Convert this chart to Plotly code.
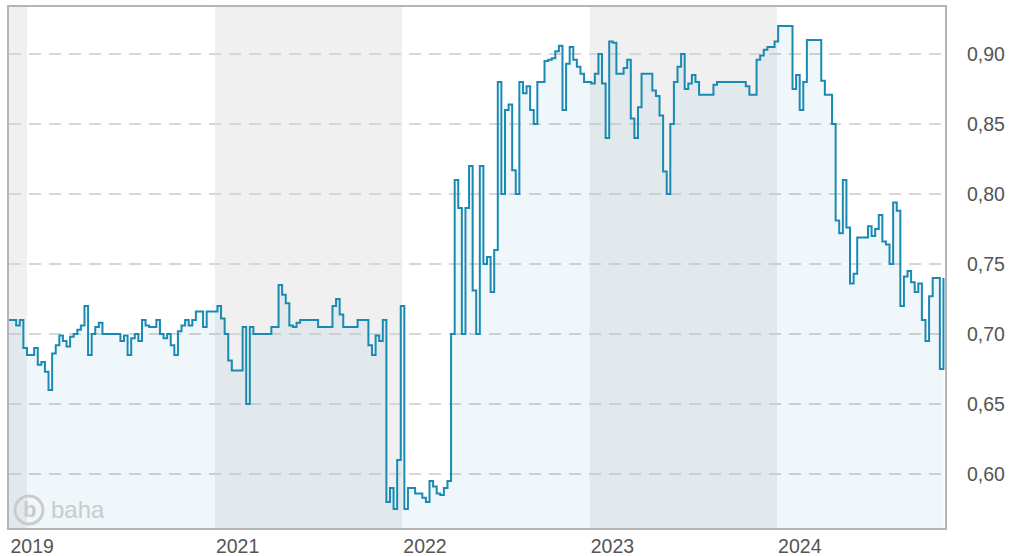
import pandas as pd
import plotly.graph_objects as go

# Weekly closing prices (EUR), first week ending late November 2019
start_date = "2019-11-27"
prices = [
    0.71, 0.71, 0.706, 0.71, 0.69, 0.685, 0.685, 0.69, 0.678, 0.68,
    0.673, 0.66, 0.686, 0.692, 0.699, 0.695, 0.691, 0.698, 0.70, 0.703,
    0.706, 0.72, 0.685, 0.70, 0.705, 0.708, 0.70, 0.70, 0.70, 0.70,
    0.70, 0.695, 0.699, 0.685, 0.697, 0.70, 0.695, 0.71, 0.706, 0.705,
    0.705, 0.71, 0.70, 0.697, 0.70, 0.692, 0.685, 0.702, 0.706, 0.71,
    0.706, 0.71, 0.716, 0.716, 0.705, 0.716, 0.716, 0.716, 0.72, 0.711,
    0.70, 0.681, 0.674, 0.674, 0.674, 0.705, 0.65, 0.705, 0.70, 0.70,
    0.70, 0.70, 0.70, 0.705, 0.705, 0.735, 0.728, 0.722, 0.706, 0.705,
    0.708, 0.71, 0.71, 0.71, 0.71, 0.71, 0.705, 0.705, 0.705, 0.705,
    0.72, 0.725, 0.714, 0.705, 0.705, 0.705, 0.705, 0.71, 0.71, 0.71,
    0.692, 0.685, 0.699, 0.695, 0.71, 0.58, 0.59, 0.575, 0.61, 0.72,
    0.575, 0.59, 0.59, 0.586, 0.586, 0.583, 0.58, 0.595, 0.591, 0.586,
    0.585, 0.59, 0.595, 0.70, 0.81, 0.79, 0.70, 0.79, 0.82, 0.731,
    0.70, 0.82, 0.75, 0.755, 0.73, 0.76, 0.88, 0.80, 0.86, 0.864,
    0.817, 0.80, 0.88, 0.872, 0.877, 0.86, 0.85, 0.88, 0.88, 0.895,
    0.896, 0.897, 0.902, 0.906, 0.86, 0.893, 0.905, 0.896, 0.891, 0.886,
    0.88, 0.88, 0.879, 0.886, 0.90, 0.879, 0.84, 0.909, 0.908, 0.886,
    0.886, 0.89, 0.896, 0.854, 0.84, 0.862, 0.886, 0.886, 0.886, 0.874,
    0.87, 0.856, 0.816, 0.80, 0.85, 0.88, 0.891, 0.90, 0.875, 0.879,
    0.885, 0.88, 0.871, 0.871, 0.871, 0.871, 0.878, 0.88, 0.88, 0.88,
    0.88, 0.88, 0.88, 0.88, 0.88, 0.877, 0.871, 0.871, 0.896, 0.899,
    0.903, 0.905, 0.905, 0.909, 0.92, 0.92, 0.92, 0.92, 0.875, 0.885,
    0.86, 0.88, 0.91, 0.91, 0.91, 0.91, 0.881, 0.871, 0.871, 0.85,
    0.781, 0.772, 0.81, 0.776, 0.736, 0.743, 0.769, 0.769, 0.769, 0.777,
    0.77, 0.775, 0.785, 0.766, 0.764, 0.75, 0.794, 0.788, 0.72, 0.741,
    0.745, 0.737, 0.73, 0.736, 0.71, 0.695, 0.727, 0.74, 0.74, 0.675,
    0.74,
]
dates = pd.date_range(start_date, periods=len(prices), freq="7D")

# Visible window and shaded calendar years
x_range = ["2019-11-27", "2024-11-23"]
shaded_years = [("2019-11-27", "2020-01-01"),
                ("2021-01-01", "2022-01-01"),
                ("2023-01-01", "2024-01-01")]

# Axis labels
year_tick_vals = ["2019-11-28", "2021-01-01", "2022-01-01", "2023-01-01", "2024-01-01"]
year_tick_text = ["2019", "2021", "2022", "2023", "2024"]
price_ticks = [0.60, 0.65, 0.70, 0.75, 0.80, 0.85, 0.90]
y_range = [0.5614, 0.9336]

LINE = "#1b8ab2"
FILL = "rgba(30,140,180,0.07)"
TEXT = "#555555"
LOGO = "#cbcbcb"
FONT = "Liberation Sans, Arial, sans-serif"
LABEL_SIZE = 19.5

fig = go.Figure()
fig.add_trace(go.Scatter(
    x=dates, y=prices,
    mode="lines",
    line=dict(color=LINE, width=2, shape="hv"),
    fill="tozeroy", fillcolor=FILL,
    hoverinfo="x+y",
    showlegend=False,
))

shapes = []
for x0, x1 in shaded_years:
    shapes.append(dict(type="rect", xref="x", yref="paper", x0=x0, x1=x1,
                       y0=0, y1=1, fillcolor="#f0f0f0", line_width=0,
                       layer="below"))

# baha logo: ring with a "b"
shapes.append(dict(type="circle", xref="paper", yref="paper",
                   x0=0.0064, x1=0.0363, y0=0.0077, y1=0.0614,
                   line=dict(color=LOGO, width=3), layer="above"))

fig.update_layout(
    width=1018, height=556,
    margin=dict(l=9, r=73, t=7, b=28),
    paper_bgcolor="white", plot_bgcolor="white",
    separators=",.",
    font=dict(family=FONT, color=TEXT, size=LABEL_SIZE),
    shapes=shapes,
    annotations=[
        dict(text="<b>b</b>", xref="paper", yref="paper", x=0.0215, y=0.036,
             showarrow=False, font=dict(size=22, color=LOGO, family=FONT),
             xanchor="center", yanchor="middle"),
        dict(text="baha", xref="paper", yref="paper", x=0.043, y=0.036,
             showarrow=False, font=dict(size=24, color=LOGO, family=FONT),
             xanchor="left", yanchor="middle"),
    ],
    xaxis=dict(
        type="date", range=x_range, automargin=False,
        tickmode="array", tickvals=year_tick_vals, ticktext=year_tick_text,
        ticklabelposition="outside right",
        showgrid=False, zeroline=False,
        showline=True, linecolor="#b4b4b4", linewidth=2, mirror=True,
        ticks="", tickfont=dict(size=LABEL_SIZE, color=TEXT),
    ),
    yaxis=dict(
        side="right", range=y_range, automargin=False,
        tickmode="array", tickvals=price_ticks, tickformat=".2f",
        showgrid=True, gridcolor="#d6d6d6", gridwidth=1.5, griddash="12px,8px",
        zeroline=False,
        showline=True, linecolor="#b4b4b4", linewidth=2, mirror=True,
        ticks="", ticklabelstandoff=16, tickfont=dict(size=LABEL_SIZE, color=TEXT),
    ),
)

fig.write_html("out.html", config={"displayModeBar": False})
